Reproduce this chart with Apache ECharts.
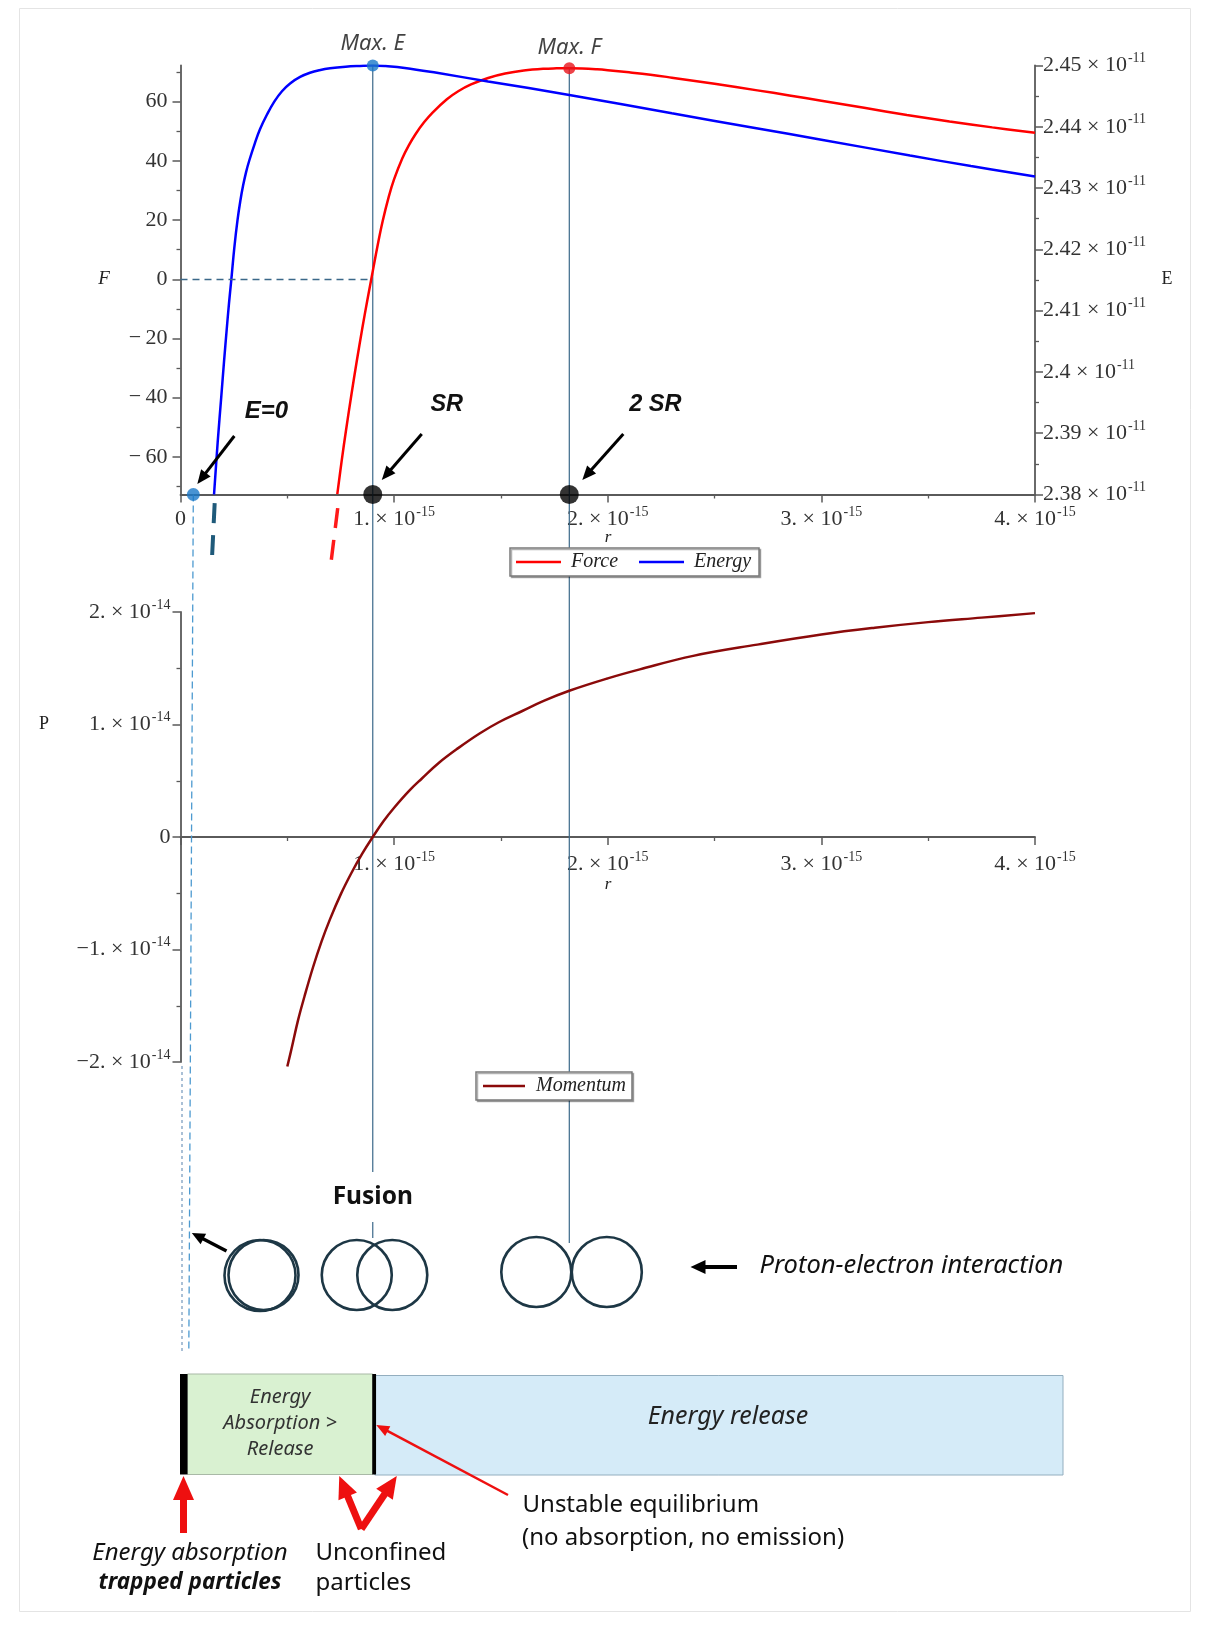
<!DOCTYPE html>
<html>
<head>
<meta charset="utf-8">
<title>Force, energy and momentum versus r</title>
<script src="https://cdn.jsdelivr.net/npm/echarts@6/dist/echarts.min.js"></script>
<style>
  html, body { margin: 0; padding: 0; background: #fff; }
  #chart { width: 1208px; height: 1629px; }
</style>
</head>
<body>
<div id="chart"></div>
<script>
// r is given in units of 1e-15 m, energy in 1e-11, momentum in 1e-14.
const rForce = [0.734, 0.754, 0.775, 0.800, 0.825, 0.850, 0.875, 0.893, 0.920, 0.946, 0.975, 1.000, 1.038, 1.070, 1.100, 1.140, 1.180, 1.247, 1.300, 1.360, 1.440, 1.520, 1.607, 1.700, 1.760, 1.820, 1.880, 1.950, 2.000, 2.100, 2.200, 2.300, 2.500, 2.700, 2.850, 3.000, 3.200, 3.400, 3.600, 3.800, 4.000];
const forceF = [-72.6, -61.6, -50.9, -39.0, -27.7, -17.0, -6.9, 0.0, 10.4, 19.5, 27.9, 33.8, 40.8, 45.4, 49.0, 53.0, 56.3, 60.8, 63.5, 65.8, 68.0, 69.5, 70.5, 71.1, 71.25, 71.3, 71.2, 70.9, 70.6, 69.9, 69.1, 68.1, 66.0, 63.8, 62.1, 60.3, 57.9, 55.5, 53.3, 51.3, 49.5];

const rEnergy = [0.157, 0.174, 0.191, 0.204, 0.216, 0.227, 0.238, 0.252, 0.267, 0.280, 0.293, 0.307, 0.322, 0.348, 0.372, 0.405, 0.439, 0.475, 0.513, 0.560, 0.606, 0.650, 0.700, 0.773, 0.840, 0.900, 0.960, 1.050, 1.200, 1.440, 1.820, 2.300, 2.689, 3.000, 3.415, 3.700, 4.000];
const energyE = [2.3800, 2.3885, 2.3960, 2.4018, 2.4068, 2.4112, 2.4151, 2.4203, 2.4248, 2.4279, 2.4304, 2.4326, 2.4345, 2.4373, 2.4396, 2.4420, 2.4441, 2.44580, 2.44707, 2.44813, 2.44881, 2.44923, 2.44955, 2.44981, 2.44993, 2.45000, 2.44990, 2.44960, 2.44880, 2.44740, 2.44520, 2.44220, 2.43980, 2.43790, 2.43530, 2.43360, 2.43190];

const rMomentum = [0.50, 0.52, 0.55, 0.58, 0.62, 0.66, 0.70, 0.75, 0.80, 0.85, 0.90, 0.95, 1.00, 1.07, 1.13, 1.21, 1.30, 1.40, 1.49, 1.60, 1.70, 1.82, 2.00, 2.15, 2.40, 2.70, 3.00, 3.25, 3.50, 3.75, 4.00];
const momentumP = [-2.04, -1.88, -1.63, -1.42, -1.16, -0.93, -0.73, -0.51, -0.32, -0.15, 0.00, 0.14, 0.26, 0.41, 0.52, 0.66, 0.79, 0.92, 1.02, 1.12, 1.21, 1.30, 1.41, 1.49, 1.61, 1.71, 1.80, 1.86, 1.91, 1.95, 1.99];

// dashed continuations below the r axis
const rForceExt = [0.736, 0.706];
const forceExt = [-77.3, -94.8];
const rEnergyExt = [0.160, 0.147];
const energyExt = [2.3786, 2.3693];

// marked points
const rE0 = 0.06;
const rSR = 0.90;
const rTwoSR = 1.82;
const maxE = 2.45;
const maxF = 71.3;

// axis extents and tick labels
const rTicks = [0, 1, 2, 3, 4];
const fRange = [-72.7, 72.2];
const fTicks = [-60, -40, -20, 0, 20, 40, 60];
const eRange = [2.38, 2.45];
const pRange = [-2, 2];

const SERIF = '"Liberation Serif", "Times New Roman", serif';
const SANS = '"Noto Sans", "Open Sans", sans-serif';
const ARIAL = '"Liberation Sans", Arial, sans-serif';
const INK = '#333';
const AXIS = '#5a5a5a';
const GUIDE = '#3b6889';

const tickRich = {
  m: { fontFamily: SERIF, fontSize: 22, color: INK, lineHeight: 28 },
  s: { fontFamily: SERIF, fontSize: 14, color: INK, verticalAlign: 'top', padding: [0, 0, 0, 1] }
};
const sci = (mant, exp) => `{m|${mant} \u00d7 10}{s|-${exp}}`;
const pairs = (xs, ys) => xs.map((x, i) => [x, ys[i]]);

const axisCommon = {
  axisLine: { show: true, onZero: false, lineStyle: { color: AXIS, width: 1.8 } },
  axisTick: { show: true, inside: false, length: 8, lineStyle: { color: AXIS, width: 1.5 } },
  minorTick: { show: true, splitNumber: 2, length: 4, lineStyle: { color: AXIS, width: 1.3 } },
  splitLine: { show: false },
  minorSplitLine: { show: false }
};

const grids = [
  { left: 180.5, top: 65.5, width: 854.5, height: 429 },
  { left: 180.5, top: 612, width: 854.5, height: 450 }
];
// the lower r axis sits on the P = 0 line
const rAxisLift = -grids[1].height * (0 - pRange[0]) / (pRange[1] - pRange[0]);

const chart = echarts.init(document.getElementById('chart'), null, { renderer: 'canvas' });

const option = {
  backgroundColor: '#fff',
  animation: false,
  grid: grids,
  xAxis: [
    Object.assign({}, axisCommon, {
      gridIndex: 0, type: 'value', min: rTicks[0], max: rTicks[rTicks.length - 1], interval: 1,
      position: 'bottom',
      axisLabel: { margin: 11, rich: tickRich, formatter: v => v === 0 ? '{m|0}' : sci(v + '.', 15) }
    }),
    Object.assign({}, axisCommon, {
      gridIndex: 1, type: 'value', min: rTicks[0], max: rTicks[rTicks.length - 1], interval: 1,
      position: 'bottom', offset: rAxisLift,
      axisLabel: { margin: 13, showMinLabel: false, rich: tickRich, formatter: v => v === 0 ? '' : sci(v + '.', 15) }
    })
  ],
  yAxis: [
    Object.assign({}, axisCommon, {
      gridIndex: 0, type: 'value', min: fRange[0], max: fRange[1], splitNumber: 7, position: 'left',
      axisTick: { show: true, length: 8, customValues: fTicks, lineStyle: { color: AXIS, width: 1.5 } },
      axisLabel: {
        margin: 13, customValues: fTicks, rich: tickRich,
        formatter: v => (Math.abs(v % 20) > 1e-6) ? '' : `{m|${v < 0 ? '\u2212\u2009' + (-v) : v}}`
      }
    }),
    Object.assign({}, axisCommon, {
      gridIndex: 0, type: 'value', min: eRange[0], max: eRange[1], interval: 0.01, position: 'right',
      axisLabel: { margin: 8, rich: tickRich, formatter: v => sci(String(+v.toFixed(2)), 11) }
    }),
    Object.assign({}, axisCommon, {
      gridIndex: 1, type: 'value', min: pRange[0], max: pRange[1], interval: 1, position: 'left',
      axisLabel: {
        margin: 10, rich: tickRich,
        formatter: v => v === 0 ? '{m|0}' : sci((v < 0 ? '\u2212' : '') + Math.abs(v) + '.', 14)
      }
    })
  ],
  legend: [
    {
      data: ['Force', 'Energy'], left: 510, top: 548, orient: 'horizontal', icon: 'rect',
      itemWidth: 45, itemHeight: 2.5, itemGap: 21, padding: [4, 8, 4, 6],
      borderColor: '#7a7a7a', borderWidth: 1.5, backgroundColor: '#fff',
      shadowColor: 'rgba(0,0,0,0.3)', shadowOffsetX: 1.5, shadowOffsetY: 1.5, shadowBlur: 0,
      selectedMode: false,
      textStyle: { fontFamily: SERIF, fontStyle: 'italic', fontSize: 20, color: '#222', padding: [0, 0, 0, 5] }
    },
    {
      data: ['Momentum'], left: 476, top: 1072, orient: 'horizontal', icon: 'rect',
      itemWidth: 42, itemHeight: 2.5, padding: [4, 6, 4, 7],
      borderColor: '#7a7a7a', borderWidth: 1.5, backgroundColor: '#fff',
      shadowColor: 'rgba(0,0,0,0.3)', shadowOffsetX: 1.5, shadowOffsetY: 1.5, shadowBlur: 0,
      selectedMode: false,
      textStyle: { fontFamily: SERIF, fontStyle: 'italic', fontSize: 20, color: '#222', padding: [0, 0, 0, 6] }
    }
  ],
  series: [
    {
      name: 'Force', type: 'line', xAxisIndex: 0, yAxisIndex: 0,
      data: pairs(rForce, forceF), smooth: 0.4, symbol: 'none',
      lineStyle: { color: '#ff0000', width: 2.5 }, itemStyle: { color: '#ff0000' }, z: 3,
      markLine: {
        silent: true, symbol: 'none', label: { show: false },
        lineStyle: { color: GUIDE, width: 1.3, type: [7, 5] },
        data: [[{ coord: [0, 0] }, { coord: [rSR, 0] }]]
      }
    },
    {
      name: 'Energy', type: 'line', xAxisIndex: 0, yAxisIndex: 1,
      data: pairs(rEnergy, energyE), smooth: 0.4, symbol: 'none',
      lineStyle: { color: '#0000ff', width: 2.5 }, itemStyle: { color: '#0000ff' }, z: 3
    },
    {
      name: 'ForceExt', type: 'line', xAxisIndex: 0, yAxisIndex: 0, clip: false, silent: true,
      data: pairs(rForceExt, forceExt), symbol: 'none',
      lineStyle: { color: '#ff1a1a', width: 3.5, type: [20, 12] }, z: 3
    },
    {
      name: 'EnergyExt', type: 'line', xAxisIndex: 0, yAxisIndex: 1, clip: false, silent: true,
      data: pairs(rEnergyExt, energyExt), symbol: 'none',
      lineStyle: { color: '#1f5a7a', width: 4, type: [20, 12] }, z: 3
    },
    {
      name: 'MaxE', type: 'scatter', xAxisIndex: 0, yAxisIndex: 1, clip: false, silent: true,
      data: [[rSR, maxE]], symbolSize: 12, itemStyle: { color: '#1a78c8' }, z: 6,
      label: { show: true, position: 'top', distance: 5, formatter: 'Max. E',
        fontFamily: SANS, fontStyle: 'italic', fontSize: 22, color: '#111' }
    },
    {
      name: 'MaxF', type: 'scatter', xAxisIndex: 0, yAxisIndex: 0, clip: false, silent: true,
      data: [[rTwoSR, maxF]], symbolSize: 12, itemStyle: { color: '#e8141c' }, z: 6,
      label: { show: true, position: 'top', distance: 3, formatter: 'Max. F',
        fontFamily: SANS, fontStyle: 'italic', fontSize: 22, color: '#111' }
    },
    {
      name: 'Markers', type: 'scatter', xAxisIndex: 0, yAxisIndex: 0, clip: false, silent: true, z: 6,
      data: [
        { value: [rE0, fRange[0]], symbolSize: 13, itemStyle: { color: '#1a78c8' } },
        { value: [rSR, fRange[0]], symbolSize: 19, itemStyle: { color: '#000' } },
        { value: [rTwoSR, fRange[0]], symbolSize: 19, itemStyle: { color: '#000' } }
      ]
    },
    {
      name: 'Momentum', type: 'line', xAxisIndex: 1, yAxisIndex: 2, clip: false,
      data: pairs(rMomentum, momentumP), smooth: 0.4, symbol: 'none',
      lineStyle: { color: '#8b0a0a', width: 2.5 }, itemStyle: { color: '#8b0a0a' }, z: 3
    }
  ]
};

chart.setOption(option);

// ---- annotations placed from the axes' own scales ----
const xPx = r => chart.convertToPixel({ xAxisIndex: 0 }, r);
const fPx = f => chart.convertToPixel({ yAxisIndex: 0 }, f);
const ePx = e => chart.convertToPixel({ yAxisIndex: 1 }, e);
const pPx = p => chart.convertToPixel({ yAxisIndex: 2 }, p);

const x0 = xPx(0), xE0 = xPx(rE0), xSR = xPx(rSR), x2SR = xPx(rTwoSR);
const yBase = fPx(fRange[0]);
const yMaxE = ePx(maxE), yMaxF = fPx(maxF);
const yPBottom = pPx(pRange[0]);

function seg(x1, y1, x2, y2, stroke, w, dash, z) {
  return { type: 'line', silent: true, z: z == null ? 10 : z,
    shape: { x1, y1, x2, y2 }, style: { stroke, lineWidth: w, lineDash: dash || null } };
}
function txt(x, y, text, font, align, fill, lineHeight) {
  return { type: 'text', silent: true, z: 10, x, y,
    style: { text, font, fill: fill || '#111', align: align || 'center', verticalAlign: 'middle', lineHeight: lineHeight || null } };
}
function arrow(x1, y1, x2, y2, color, width, headLen, headW) {
  const dx = x2 - x1, dy = y2 - y1, L = Math.hypot(dx, dy);
  const ux = dx / L, uy = dy / L, nx = -uy, ny = ux;
  const bx = x2 - ux * headLen, by = y2 - uy * headLen;
  return [
    { type: 'line', silent: true, z: 10, shape: { x1, y1, x2: bx + ux, y2: by + uy },
      style: { stroke: color, lineWidth: width } },
    { type: 'polygon', silent: true, z: 10,
      shape: { points: [[x2, y2], [bx + nx * headW / 2, by + ny * headW / 2], [bx - nx * headW / 2, by - ny * headW / 2]] },
      style: { fill: color } }
  ];
}
function ring(cx, cy, r) {
  return { type: 'circle', silent: true, z: 10, shape: { cx, cy, r },
    style: { fill: 'none', stroke: '#1d3745', lineWidth: 2.6 } };
}
function box(x, y, w, h, fill, stroke) {
  return { type: 'rect', silent: true, z: 9, shape: { x, y, width: w, height: h },
    style: { fill, stroke: stroke || null, lineWidth: stroke ? 1 : 0 } };
}

const RED = '#ee1010';
const els = [];

// page frame
els.push({ type: 'rect', silent: true, z: 0, shape: { x: 19.5, y: 8.5, width: 1171, height: 1603 },
  style: { fill: 'none', stroke: '#e4e4e4', lineWidth: 1 } });

// axis names
els.push(txt(104, 279, 'F', 'italic 19px ' + SERIF, 'center', '#222'));
els.push(txt(1167, 279, 'E', '18px ' + SERIF, 'center', '#222'));
els.push(txt(608, 538, 'r', 'italic 17px ' + SERIF, 'center', '#222'));
els.push(txt(44, 724, 'P', '18px ' + SERIF, 'center', '#222'));
els.push(txt(608, 885, 'r', 'italic 17px ' + SERIF, 'center', '#222'));

// vertical guides through both panels
els.push(seg(xSR, yMaxE, xSR, 1172, GUIDE, 1.2, null, 1));
els.push(seg(xSR, 1222, xSR, 1238, GUIDE, 1.2, null, 1));
els.push(seg(x2SR, yMaxF, x2SR, 1243, GUIDE, 1.2, null, 1));
els.push(seg(xE0, yBase, xE0 - 4.5, 1352, '#4d9ad0', 1.3, [7, 4], 1));
els.push(seg(x0 + 1.5, yPBottom + 4, x0 + 1.5, 1352, '#7d9fc0', 1.3, [3, 3], 1));

// callouts on the r axis
els.push(...arrow(xE0 + 41, yBase - 58.5, xE0 + 4, yBase - 10.5, '#000', 3, 14, 12));
els.push(...arrow(xSR + 49, yBase - 60.5, xSR + 9, yBase - 14.5, '#000', 3, 14, 12));
els.push(...arrow(x2SR + 54, yBase - 60.5, x2SR + 13, yBase - 14.5, '#000', 3, 14, 12));
els.push(txt(xE0 + 73, yBase - 83.5, 'E=0', 'italic bold 24px ' + ARIAL));
els.push(txt(xSR + 74, yBase - 89.5, 'SR', 'italic bold 23.5px ' + ARIAL));
els.push(txt(x2SR + 86, yBase - 89.5, '2 SR', 'italic bold 23.5px ' + ARIAL));

// particle sketches
els.push(txt(xSR, 1197, 'Fusion', 'bold 24.5px ' + SANS, 'center', '#111'));
els.push(ring(260, 1275.5, 35.5));
els.push(ring(263.5, 1275, 35));
els.push(ring(xSR - 16, 1275, 35));
els.push(ring(xSR + 19.5, 1275, 35));
els.push(ring(x2SR - 33, 1272, 35));
els.push(ring(x2SR + 37.5, 1272, 35));
els.push(...arrow(226.5, 1251, xE0 - 1.5, 1233, '#000', 3.5, 13, 12));
els.push(...arrow(737, 1267, 690.5, 1267, '#000', 4, 15, 14));
els.push(txt(759.5, 1266, 'Proton-electron interaction', 'italic 25.5px ' + SANS, 'left', '#111'));

// absorption / release bar
els.push(box(x0 + 7, 1374, xSR - x0 - 7, 100.5, '#d9f1d1', '#a9b9a6'));
els.push(box(xSR + 2, 1375.5, 1063 - xSR - 2, 99.5, '#d5ebf8', '#93aebf'));
els.push(box(x0 - 0.5, 1374, 7.5, 100.5, '#000'));
els.push(box(xSR - 0.5, 1374, 3.8, 100.5, '#000'));
els.push(txt((x0 + 7 + xSR) / 2, 1423, 'Energy\nAbsorption >\nRelease', 'italic 20px ' + SANS, 'center', '#333', 26));
els.push(txt(728, 1417, 'Energy release', 'italic 25px ' + SANS, 'center', '#222'));

// red arrows and their notes
els.push(...arrow(x0 + 3, 1533, x0 + 3, 1476, RED, 7, 24, 21));
els.push(...arrow(xSR - 11.5, 1529, xSR - 33.5, 1476, RED, 7, 22, 20));
els.push(...arrow(xSR - 11.5, 1529, xSR + 24, 1476, RED, 7, 22, 20));
els.push(...arrow(508, 1495, xSR + 3.5, 1425, RED, 2.5, 13, 11));
els.push(txt(190, 1553, 'Energy absorption', 'italic 24px ' + SANS, 'center', '#111'));
els.push(txt(190, 1583, 'trapped particles', 'italic bold 22.5px ' + SANS, 'center', '#111'));
els.push(txt(315.5, 1553, 'Unconfined', '24px ' + SANS, 'left', '#111'));
els.push(txt(315.5, 1583, 'particles', '24px ' + SANS, 'left', '#111'));
els.push(txt(522.5, 1505, 'Unstable equilibrium', '24px ' + SANS, 'left', '#111'));
els.push(txt(522, 1538, '(no absorption, no emission)', '24px ' + SANS, 'left', '#111'));

chart.setOption({ graphic: { elements: els } });
</script>
</body>
</html>
